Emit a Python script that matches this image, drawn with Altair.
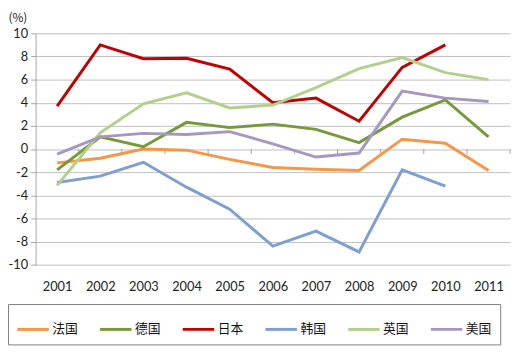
import altair as alt
import pandas as pd

years = [2001, 2002, 2003, 2004, 2005, 2006, 2007, 2008, 2009, 2010, 2011]
series_names = ["法国", "德国", "日本", "韩国", "英国", "美国"]
series_colors = ["#F79646", "#77993C", "#C00000", "#7F9FD0", "#B3CF8C", "#A497C0"]
france = [-1.2, -0.8, 0.0, -0.1, -0.9, -1.6, -1.75, -1.85, 0.85, 0.5, -1.85]
germany = [-1.8, 1.05, 0.2, 2.3, 1.85, 2.15, 1.7, 0.55, 2.75, 4.25, 1.05]
japan = [3.7, 9.0, 7.8, 7.85, 6.9, 4.0, 4.4, 2.4, 7.05, 9.0, None]
korea = [-2.9, -2.35, -1.15, -3.3, -5.2, -8.4, -7.1, -8.9, -1.8, -3.2, None]
uk = [-3.15, 1.4, 3.9, 4.85, 3.55, 3.8, 5.3, 6.95, 7.9, 6.6, 6.0]
us = [-0.45, 1.05, 1.35, 1.25, 1.5, 0.45, -0.7, -0.35, 5.0, 4.4, 4.1]
y_ticks = [-10, -8, -6, -4, -2, 0, 2, 4, 6, 8, 10]
boundaries = [2001.5, 2002.5, 2003.5, 2004.5, 2005.5, 2006.5, 2007.5, 2008.5, 2009.5, 2010.5, 2011.5]

rows = []
for name, vals in zip(series_names, [france, germany, japan, korea, uk, us]):
    for yr, v in zip(years, vals):
        if v is not None:
            rows.append({"year": yr, "value": v, "country": name})
df = pd.DataFrame(rows)

xscale = alt.Scale(domain=[2000.5, 2011.5], nice=False, zero=False)
yscale = alt.Scale(domain=[-10, 10], nice=False)
font = "Lato"
cjk = "Noto Sans CJK SC"

x_axis = alt.Axis(values=years, format="d", title=None, grid=False, domain=False,
                  ticks=False, labelFont=font, labelFontSize=13, labelColor="#222222",
                  labelPadding=16, labelOverlap=False)
y_axis = alt.Axis(values=y_ticks, title="(%)", titleAngle=0, titleAlign="left",
                  titleBaseline="middle", titleX=-28, titleY=-16, titleFont=cjk,
                  titleFontSize=12, titleFontWeight="normal", titleColor="#222222",
                  grid=True, gridColor="#BFBFBF", gridWidth=1,
                  domainColor="#A6A6A6", tickColor="#A6A6A6", tickSize=5,
                  labelExpr="'' + datum.value", labelOverlap=False,
                  labelFont=font, labelFontSize=13, labelColor="#222222",
                  labelPadding=3)

lines = alt.Chart(df).mark_line(strokeWidth=3).encode(
    x=alt.X("year:Q", scale=xscale, axis=x_axis),
    y=alt.Y("value:Q", scale=yscale, axis=y_axis),
    color=alt.Color("country:N",
                    scale=alt.Scale(domain=series_names, range=series_colors),
                    legend=alt.Legend(title=None, orient="none", legendX=-28, legendY=275,
                                      direction="horizontal", columns=6,
                                      symbolType="stroke", symbolSize=1024,
                                      symbolStrokeWidth=3, labelFont=cjk,
                                      labelFontSize=13, labelColor="#111111",
                                      labelOffset=2, columnPadding=15, padding=8,
                                      strokeColor="#7F7F7F")),
)

bdf = pd.DataFrame({"b": boundaries, "y0": [0.0] * len(boundaries),
                    "y1": [-0.43] * len(boundaries)})
ticks = alt.Chart(bdf).mark_rule(color="#A6A6A6", strokeWidth=1).encode(
    x=alt.X("b:Q", scale=xscale, axis=x_axis),
    y=alt.Y("y0:Q", scale=yscale, axis=y_axis),
    y2="y1:Q",
)

chart = alt.layer(ticks, lines).properties(
    width=482, height=235,
    padding={"left": 28, "top": 23, "right": 4, "bottom": 87},
    autosize="none",
).configure_view(stroke=None)

chart.save("out.html", embed_options={"renderer": "svg", "actions": False})
